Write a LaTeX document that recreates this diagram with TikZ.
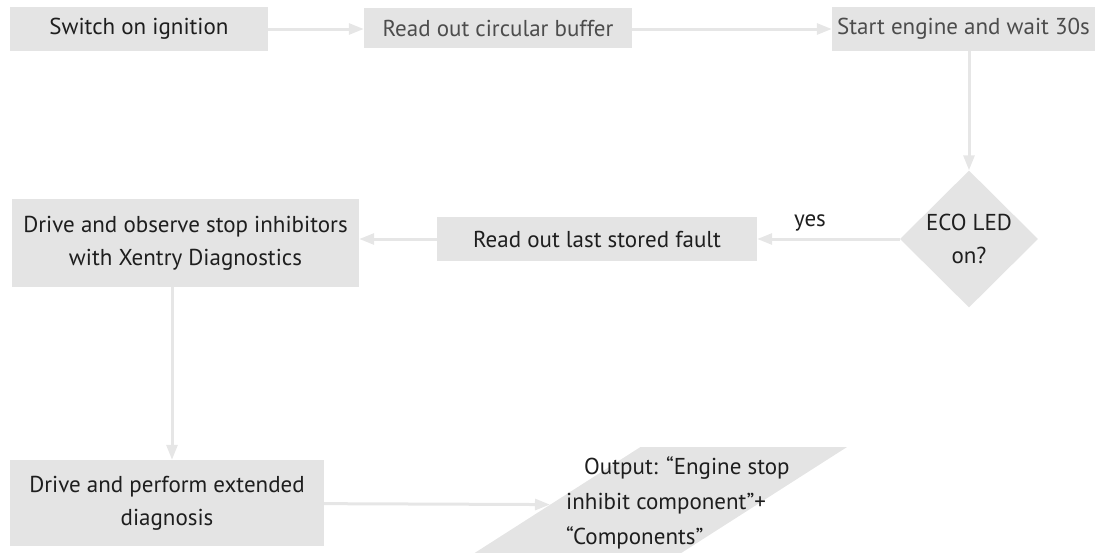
\documentclass[tikz,border=0pt]{standalone}
\usepackage{fontspec}
\setmainfont{PT Sans}
\usetikzlibrary{shapes.geometric,arrows.meta}

\definecolor{boxgray}{RGB}{228,228,228}
\definecolor{linegray}{RGB}{230,230,230}
\definecolor{inkgray}{RGB}{30,30,30}

\tikzset{
  every node/.style={font=\fontsize{23}{33}\selectfont, text=inkgray}, % same text everywhere
  stepbox/.style={fill=boxgray, inner sep=0pt, align=center}, % grey process box
  decision/.style={diamond, fill=boxgray, inner sep=0pt, align=center},
  iobox/.style={trapezium, trapezium left angle=52, trapezium right angle=128,
    trapezium stretches=true, fill=boxgray, inner sep=2pt},
  flow/.style={-{Triangle[length=15pt,width=11pt]}, draw=linegray, line width=3pt}, % connectors
}

\begin{document}
\begin{tikzpicture}[x=1pt,y=-1pt]
    \useasboundingbox (0,0) rectangle (1095,552);
    \node[stepbox, minimum width=258, minimum height=44] (ign) at (139,29) {Switch on ignition};
    \node[stepbox, minimum width=268, minimum height=40, text=black!70] (buf) at (498,28) {Read out circular buffer};
    \node[stepbox, minimum width=263, minimum height=44, text=black!70] (eng) at (963.5,29) {Start engine and wait 30s};
    \node[decision, minimum width=138, minimum height=137] (eco) at (969,239) {ECO LED\\on?};
    \node[stepbox, minimum width=320, minimum height=44] (fault) at (597,239) {Read out last stored fault};
    \node[stepbox, minimum width=347, minimum height=88] (obs) at (185.5,243) {Drive and observe stop inhibitors\\with Xentry Diagnostics};
    \node[stepbox, minimum width=314, minimum height=86] (ext) at (167,503) {Drive and perform extended\\diagnosis};
    \node[iobox, minimum width=390, minimum height=116] (out) at (653,505) {\strut};
    % text of the output box, left aligned
    \node[align=left, anchor=west, font=\fontsize{23}{35}\selectfont] (outtext) at (562.7,503)
      {\hspace*{18pt}Output: “Engine stop\\inhibit component”+\\“Components”};

    \draw[flow] (ign.east) -- (ign.east -| buf.west);
    \draw[flow] (buf.east |- ign.east) -- (ign.east -| eng.west);
    \draw[flow] (eco.north |- eng.south) -- (eco.north);
    \draw[flow] (eco) -- (fault) node[pos=0.63, above=3pt] {yes};
    \draw[flow] (fault.west) -- (fault.west -| obs.east);
    \draw[flow] ([xshift=5]ext.north |- obs.south) -- ([xshift=5]ext.north);
    \draw[flow] (ext) -- (out);
\end{tikzpicture}
\end{document}
